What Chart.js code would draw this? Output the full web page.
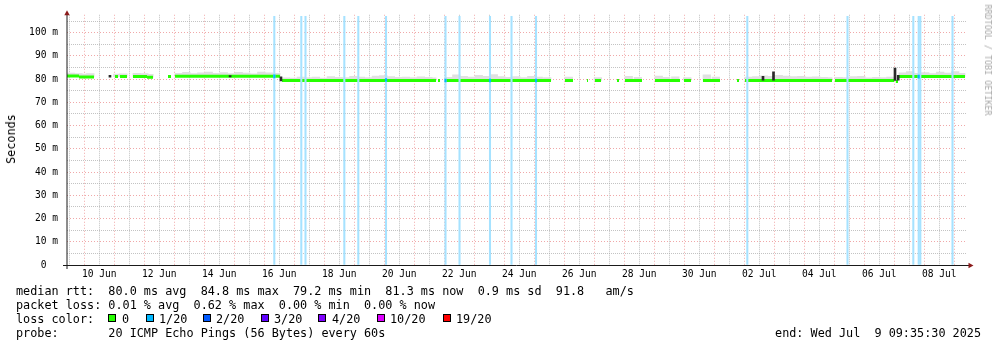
<!DOCTYPE html>
<html><head><meta charset="utf-8">
<script src="https://cdn.jsdelivr.net/npm/chart.js@4.4.0/dist/chart.umd.min.js"></script>
<style>
html,body{margin:0;padding:0;background:#fff;}
#wrap{position:relative;width:997px;height:347px;overflow:hidden;background:#fff;}
canvas{position:absolute;left:0;top:0;}
.t{position:absolute;font-family:'DejaVu Sans Mono',monospace;font-size:11.8px;line-height:14px;white-space:pre;color:#000;}
.box{position:absolute;width:6px;height:6px;border:1px solid #000;top:314px;}
#ylab{position:absolute;left:11px;top:139px;transform:translate(-50%,-50%) rotate(-90deg);font-family:'DejaVu Sans Mono',monospace;font-size:11.8px;white-space:pre;color:#000;}
#wm{position:absolute;left:988px;top:60px;transform:translate(-50%,-50%) rotate(90deg);font-family:'DejaVu Sans Mono',monospace;font-size:8.4px;white-space:pre;color:#a8a8a8;}
</style></head><body>
<div id="wrap">
<canvas id="c" width="997" height="347"></canvas>
<div id="ylab">Seconds</div>
<div id="wm">RRDTOOL / TOBI OETIKER</div>
<div class="t" style="left:16px;top:284px;">median rtt:  80.0 ms avg  84.8 ms max  79.2 ms min  81.3 ms now  0.9 ms sd  91.8   am/s</div>
<div class="t" style="left:16px;top:298px;">packet loss: 0.01 % avg  0.62 % max  0.00 % min  0.00 % now</div>
<div class="t" style="left:16px;top:312px;">loss color:</div>
<div id="legend"></div>
<div class="t" style="left:16px;top:326px;">probe:       20 ICMP Echo Pings (56 Bytes) every 60s</div>
<div class="t" style="right:16px;top:326px;">end: Wed Jul  9 09:35:30 2025</div>
</div>
<script>
// ---- data (x in days: June day number; July = 30 + day) ----
const segStart = [9.423, 9.823, 11.023, 11.19, 11.623, 12.09, 12.79, 13.023, 16.59, 21.79, 22.023, 26.023, 26.757, 27.023, 27.757, 28.023, 29.023, 29.99, 30.623, 31.757, 32.023, 35.023, 37.05, 37.157];
const segEnd   = [9.823, 10.323, 11.123, 11.423, 12.09, 12.29, 12.89, 16.523, 21.723, 21.857, 25.557, 26.29, 26.79, 27.223, 27.823, 28.59, 29.857, 30.223, 31.19, 31.823, 34.923, 36.99, 37.123, 39.357];
const segValue = [81.3, 80.9, 81.1, 81.1, 81.1, 80.8, 81.1, 81.2, 79.4, 79.4, 79.4, 79.4, 79.4, 79.4, 79.4, 79.4, 79.4, 79.4, 79.4, 79.4, 79.4, 79.4, 79.0, 81.1];

const smokeTimes = [9.55,9.8,10.05,10.2, 11.1,11.3, 11.75,12.0,12.17,
  13.15,13.4,13.65,13.9,14.15,14.4,14.65,14.9,15.15,15.4,15.65,15.9,16.15,16.4,
  16.72,16.97,17.22,17.47,17.72,17.97,18.22,18.47,18.72,18.97,19.22,19.47,19.72,19.97,20.22,20.47,20.72,20.97,21.22,21.47,21.6,
  22.15,22.4,22.65,22.9,23.15,23.4,23.65,23.9,24.15,24.4,24.65,24.9,25.15,25.43,
  26.15, 27.12, 28.15,28.45, 29.15,29.4,29.7, 30.1, 30.75,31.05,
  32.15,32.4,32.65,32.9,33.15,33.4,33.65,33.9,34.15,34.4,34.65,34.8,
  35.15,35.4,35.65,35.9,36.15,36.4,36.65,36.87,
  37.28,37.53,37.78,38.03,38.28,38.53,38.78,39.03,39.23];
const smokeHigh = [82.6,82.4,82.2,82.4, 82.2,82.3, 82.5,82.4,82.1,
  82.5,82.9,82.4,82.7,83.0,82.5,82.8,82.4,82.9,82.6,82.3,83.0,82.7,82.5,
  80.6,80.5,80.9,80.7,80.9,80.5,81.1,80.8,80.7,81.2,80.9,80.7,81.3,81.5,81.1,80.8,80.9,80.7,81.0,80.8,80.6,
  80.8,81.9,81.2,80.9,81.6,81.2,82.0,81.1,80.8,81.1,80.7,81.2,80.9,80.7,
  80.9, 80.7, 81.2,80.8, 81.3,80.8,81.0, 80.7, 81.8,80.9,
  80.9,81.1,81.4,81.2,81.6,81.3,81.1,81.2,80.9,81.0,80.8,80.7,
  80.8,80.7,81.1,81.2,80.6,80.8,80.7,80.9,
  82.7,83.2,82.5,82.8,82.4,83.0,82.6,83.2,82.5];

const spikeTimes = [10.855, 14.86, 16.555, 32.623, 32.973, 37.023, 37.13];
const spikeLow   = [80.8, 80.9, 79.2, 79.5, 79.6, 79.4, 79.6];
const spikeHigh  = [81.6, 81.5, 81.0, 81.2, 83.1, 84.8, 81.6];

const lossTimes = [16.333,17.233,17.373,18.667,19.133,20.057,22.04,22.507,23.523,24.24,25.057,32.10,35.44,37.633,37.813,37.867,38.94];
const lossTop = 107;
const markTimes  = [16.333, 20.057, 22.04, 23.523, 25.057, 37.813];
const markLevels = [81.2, 79.6, 79.4, 79.4, 79.4, 81.1];

const xLabelDays  = [10.5,12.5,14.5,16.5,18.5,20.5,22.5,24.5,26.5,28.5,30.5,32.5,34.5,36.5,38.5];
const xLabelTexts = ['10 Jun','12 Jun','14 Jun','16 Jun','18 Jun','20 Jun','22 Jun','24 Jun','26 Jun','28 Jun','30 Jun','02 Jul','04 Jul','06 Jul','08 Jul'];
const yTickValues = [0,10,20,30,40,50,60,70,80,90,100];
const yTickLabels = ['0  ','10 m','20 m','30 m','40 m','50 m','60 m','70 m','80 m','90 m','100 m'];

const lossLabels = ['0','1/20','2/20','3/20','4/20','10/20','19/20'];
const lossColors = ['#26ff00','#00b8ff','#0059ff','#5e00ff','#7e00ff','#dd00ff','#ff0000'];

// ---- legend (html text) ----
const boxX = [108.3,145.7,202.7,260.7,318.3,376.7,443.3];
const txtX = [122,159,216,274,332,390,456];
const lg = document.getElementById('legend');
lossLabels.forEach((l,i)=>{
  const b=document.createElement('div'); b.className='box'; b.style.left=boxX[i]+'px'; b.style.background=lossColors[i]; lg.appendChild(b);
  const t=document.createElement('div'); t.className='t'; t.style.left=txtX[i]+'px'; t.style.top='312px'; t.textContent=l; lg.appendChild(t);
});

// ---- build datasets ----
const medianPts = [];
segStart.forEach((s,i)=>{
  medianPts.push({x:s,y:segValue[i]},{x:segEnd[i],y:segValue[i]},{x:segEnd[i],y:null});
});
function levelAt(t){
  for(let i=0;i<segStart.length;i++){ if(t>=segStart[i]-0.01 && t<=segEnd[i]+0.01) return segValue[i]; }
  let best=0,bd=1e9; segStart.forEach((s,i)=>{const d=Math.min(Math.abs(t-s),Math.abs(t-segEnd[i])); if(d<bd){bd=d;best=i;}});
  return segValue[best];
}
const smokePts = smokeTimes.map((t,i)=>({x:t,y:[levelAt(t),smokeHigh[i]]}));
const spikePts = spikeTimes.map((t,i)=>({x:t,y:[spikeLow[i],spikeHigh[i]]}));
const lossPts  = lossTimes.map(t=>({x:t,y:[0,lossTop]}));
const markPts  = markTimes.map((t,i)=>({x:t,y:[markLevels[i]-0.64,markLevels[i]+0.64]}));

const xMin = 9.423, xMax = 39.423;
const MONO = 'DejaVu Sans Mono';
const RED = 'rgba(228,100,100,0.56)', GREY = 'rgba(170,170,170,0.7)';

const axesPlugin = {
  id:'rrdaxes',
  afterDraw(chart){
    const {ctx, chartArea:a} = chart;
    ctx.save();
    ctx.strokeStyle='#1a1a1a'; ctx.lineWidth=1;
    ctx.beginPath(); ctx.moveTo(a.left-4, a.bottom+0.5); ctx.lineTo(a.right+3, a.bottom+0.5); ctx.stroke();
    ctx.beginPath(); ctx.moveTo(a.left, a.bottom+4); ctx.lineTo(a.left, a.top-1); ctx.stroke();
    ctx.fillStyle='#8b1a1a';
    ctx.beginPath(); ctx.moveTo(a.left-2.7, a.top+0.5); ctx.lineTo(a.left+2.7, a.top+0.5); ctx.lineTo(a.left, a.top-4.5); ctx.closePath(); ctx.fill();
    ctx.beginPath(); ctx.moveTo(a.right+1.5, a.bottom-2.3); ctx.lineTo(a.right+1.5, a.bottom+3.3); ctx.lineTo(a.right+6.5, a.bottom+0.5); ctx.closePath(); ctx.fill();
    ctx.restore();
  }
};

new Chart(document.getElementById('c'), {
  type:'line',
  data:{ datasets:[
    {type:'bar', data:markPts, backgroundColor:'#00b8ff', barThickness:1.5, grouped:false, order:0},
    {type:'bar', data:lossPts, backgroundColor:'#a6e2ff', barThickness:1.4, grouped:false, order:1},
    {type:'bar', data:spikePts, backgroundColor:'#2a2a2a', barThickness:2, grouped:false, order:2},
    {type:'line', data:medianPts, borderColor:'#26ff00', borderWidth:3, pointRadius:0, spanGaps:false, tension:0, fill:false, borderCapStyle:'butt', order:3},
    {type:'bar', data:smokePts, backgroundColor:'#e0e0e0', barThickness:7.6, grouped:false, order:4}
  ]},
  options:{
    responsive:false, animation:false, devicePixelRatio:1,
    layout:{padding:{top:13,right:30,left:0,bottom:0}},
    plugins:{legend:{display:false}, tooltip:{enabled:false}},
    scales:{
      x:{
        type:'linear', min:xMin, max:xMax, offset:false,
        afterFit:s=>{s.height=82;},
        afterBuildTicks:s=>{ const t=[]; for(let v=9.5; v<=39; v+=0.5) t.push({value:v}); s.ticks=t; },
        ticks:{autoSkip:false, maxRotation:0, minRotation:0, padding:4, color:'#000', font:{family:MONO,size:9.6},
          callback:(v)=>{ const i=xLabelDays.indexOf(v); return i>=0?xLabelTexts[i]:''; }},
        grid:{drawTicks:false, offset:false, lineWidth:1, color:c=>Number.isInteger(c.tick.value)?RED:GREY},
        border:{display:false, dash:c=>(c.tick && Number.isInteger(c.tick.value))?[1,2]:[1,1]}
      },
      y:{
        type:'linear', min:0, max:107.7,
        afterFit:s=>{s.width=67;},
        afterBuildTicks:s=>{ const t=[]; for(let v=0; v<=105; v+=5) t.push({value:v}); s.ticks=t; },
        ticks:{autoSkip:false, padding:9, color:'#000', font:{family:MONO,size:9.6},
          callback:(v)=>{ const i=yTickValues.indexOf(v); return i>=0?yTickLabels[i]:''; }},
        grid:{drawTicks:false, lineWidth:1, color:c=>(c.tick.value%10===0)?RED:GREY},
        border:{display:false, dash:c=>(c.tick && c.tick.value%10===0)?[1,2]:[1,1]}
      }
    }
  },
  plugins:[axesPlugin]
});
</script>
</body></html>
